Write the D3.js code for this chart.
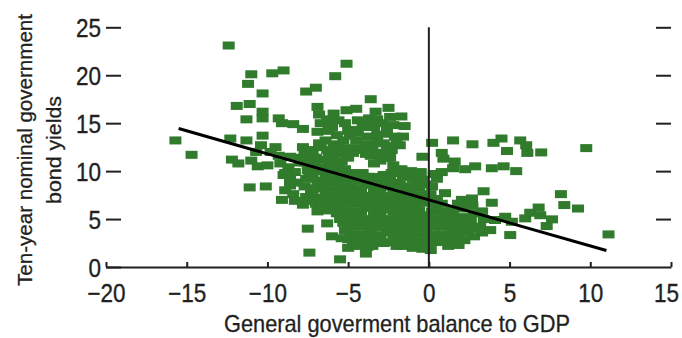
<!DOCTYPE html>
<html>
<head>
<meta charset="utf-8">
<script src="https://cdn.jsdelivr.net/npm/d3@7"></script>
<style>
  body { margin: 0; background: #fff; }
  svg { display: block; }
</style>
</head>
<body>
<svg id="chart" width="682" height="338"></svg>
<script>
// Axis ticks
const xTicks = [-20, -15, -10, -5, 0, 5, 10, 15];
const yTicks = [0, 5, 10, 15, 20, 25];

// Labels
const xTitle = "General goverment balance to GDP";
const yTitleLines = ["Ten-year nominal government", "bond yields"];

// Linear fit of yields on balance
const fitIntercept = 7.0;
const fitSlope = -0.48;
const fitRange = [-15.5, 11];

// Observations: [general government balance (% of GDP), ten-year yield (%)]
const observations = [
  // sparse high-yield and deficit observations
  [-12.4,23.1],[-11.0,20.1],[-11.2,19.1],[-9.7,20.2],[-9.0,20.5],[-5.1,21.2],[-5.8,19.9],
  [-10.3,18.1],[-7.6,18.3],[-7.0,18.7],[-3.6,17.5],
  [-11.9,16.8],[-11.1,17.0],[-10.3,16.2],[-11.3,15.4],[-10.3,15.5],[-9.3,15.5],[-9.1,15.0],
  [-8.4,14.9],[-7.8,14.4],
  [-15.7,13.2],[-14.7,11.7],[-12.3,13.4],[-11.3,13.2],[-10.3,13.7],[-10.4,12.7],[-9.5,12.5],[-7.8,12.5],
  [-12.2,11.2],[-11.8,10.8],[-11.0,11.1],[-10.6,10.5],[-10.0,10.6],[-10.7,12.0],[-9.8,12.0],
  [-11.1,8.3],[-10.1,8.4],
  [-9.2,10.8],[-8.7,10.4],[-9.0,9.6],[-8.3,9.9],[-8.6,11.5],[-9.3,11.6],[-8.2,11.4],[-8.0,10.9],
  [-8.6,8.5],[-8.9,8.0],[-8.2,8.8],[-8.4,7.6],[-9.1,7.0],[-8.3,6.9],[-8.6,9.1],[-8.9,9.8],
  // core deficit cluster, column by column
  [-7.7,11.7],[-7.7,10.9],[-7.5,10.1],[-7.6,9.2],[-7.7,8.4],[-7.6,7.3],[-7.8,6.5],[-7.5,4.0],[-7.4,1.5],
  [-7.3,11.2],[-7.4,9.6],[-7.3,8.0],[-7.4,6.9],
  [-6.9,16.7],[-6.8,15.9],[-6.7,15.0],[-6.9,14.1],[-7.2,12.2],[-7.0,11.4],[-7.1,10.6],[-7.2,9.8],
  [-6.9,9.0],[-7.1,8.2],[-7.2,7.4],[-7.0,6.6],[-6.9,5.8],
  [-6.8,12.9],[-6.8,10.0],[-6.8,8.5],[-6.7,7.0],[-6.8,6.1],
  [-6.4,13.2],[-6.7,12.5],[-6.3,12.2],[-6.7,11.2],[-6.5,10.4],[-6.4,9.6],[-6.6,8.8],[-6.4,8.0],
  [-6.5,7.2],[-6.6,6.4],[-6.3,5.9],[-6.3,4.55],[-6.0,3.2],
  [-6.2,14.2],[-6.3,15.4],[-6.2,11.6],[-6.2,10.8],[-6.2,9.2],[-6.2,7.6],[-6.2,6.8],
  [-5.9,16.0],[-6.0,14.6],[-5.7,13.75],[-5.9,12.8],[-5.8,12.0],[-6.0,11.2],[-5.9,10.4],[-5.8,9.6],
  [-6.0,8.8],[-5.9,8.0],[-5.8,7.2],[-6.0,6.4],[-5.7,5.6],
  [-5.6,15.3],[-5.6,12.4],[-5.6,10.8],[-5.6,9.0],[-5.6,8.4],[-5.6,6.8],[-5.6,6.0],[-5.5,5.0],
  [-5.1,16.35],[-5.2,15.0],[-5.3,13.2],[-5.1,12.4],[-5.3,11.8],[-5.4,11.0],[-5.2,10.2],[-5.3,9.4],
  [-5.4,8.6],[-5.2,7.8],[-5.3,7.0],[-5.4,6.2],[-5.2,5.4],[-5.3,4.6],[-5.2,3.8],[-5.4,3.0],
  [-5.0,2.0],[-5.5,0.8],
  [-5.0,14.2],[-4.9,13.7],[-5.0,11.4],[-5.0,9.0],[-4.9,8.6],[-5.0,6.6],[-5.0,4.2],[-5.0,2.9],
  [-4.5,16.5],[-4.4,15.3],[-4.7,14.3],[-4.5,13.2],[-4.4,12.4],[-4.7,11.9],[-4.7,9.8],[-4.6,9.0],
  [-4.8,8.2],[-4.7,7.4],[-4.6,6.6],[-4.8,5.8],[-4.7,5.0],[-4.6,4.2],[-4.8,3.4],[-4.7,2.6],
  [-4.4,14.0],[-4.4,9.4],[-4.4,7.8],[-4.4,7.0],[-4.4,5.4],[-4.4,4.6],[-4.4,3.0],[-4.4,2.2],
  [-3.7,15.5],[-4.1,14.6],[-3.8,13.6],[-4.1,12.2],[-3.9,11.8],[-4.1,9.8],[-4.0,9.0],[-4.2,8.2],
  [-4.1,7.4],[-4.0,6.6],[-4.2,5.8],[-4.1,5.0],[-4.0,4.2],[-4.2,3.4],[-4.1,2.6],[-3.9,1.4],
  [-3.8,14.8],[-3.8,12.8],[-3.8,9.4],[-3.8,8.6],[-3.8,7.0],[-3.8,6.2],[-3.8,4.6],[-3.8,3.0],[-3.8,2.1],
  [-3.3,16.2],[-3.4,14.6],[-3.2,13.05],[-3.5,12.4],[-3.6,11.6],[-3.4,10.8],[-3.5,9.4],[-3.6,8.6],
  [-3.4,7.8],[-3.5,7.0],[-3.6,6.2],[-3.4,5.4],[-3.5,4.6],[-3.6,3.8],[-3.4,3.0],[-3.5,2.2],
  [-3.2,15.4],[-3.2,13.8],[-3.2,11.9],[-3.2,9.0],[-3.2,8.2],[-3.2,6.6],[-3.2,5.8],[-3.2,4.2],[-3.2,2.6],
  [-2.5,16.6],[-2.9,15.0],[-2.6,13.9],[-2.8,12.9],[-2.9,11.9],[-3.0,11.1],[-2.8,9.6],[-2.9,8.9],
  [-3.0,8.1],[-2.8,7.3],[-2.9,6.5],[-3.0,5.7],[-2.8,4.9],[-2.9,4.1],[-3.0,3.3],[-2.8,2.5],
  [-2.6,14.4],[-2.6,12.6],[-2.6,11.4],[-2.6,8.4],[-2.6,7.0],[-2.6,6.0],[-2.6,4.4],[-2.6,3.6],
  [-2.4,15.65],[-2.2,14.8],[-2.1,13.6],[-2.3,12.2],[-2.4,11.4],[-2.2,10.6],[-2.3,9.8],[-2.4,9.0],
  [-2.2,8.2],[-2.3,7.4],[-2.4,6.6],[-2.2,5.8],[-2.3,5.0],[-2.4,4.2],[-2.2,3.4],[-2.3,2.6],
  [-2.0,12.9],[-2.0,10.0],[-2.0,8.8],[-2.0,7.0],[-2.0,6.2],[-2.0,4.6],[-2.0,3.0],[-2.0,2.2],
  [-1.7,15.7],[-1.5,14.7],[-1.6,13.6],[-1.8,12.7],[-1.7,10.2],[-1.6,9.4],[-1.8,8.6],[-1.7,7.8],
  [-1.6,7.0],[-1.8,6.2],[-1.7,5.4],[-1.6,4.6],[-1.8,3.8],[-1.7,3.0],[-1.6,2.2],
  [-1.4,9.8],[-1.4,8.0],[-1.4,6.6],[-1.4,5.8],[-1.4,4.2],[-1.4,3.4],[-1.4,2.5],
  [-1.1,10.0],[-1.0,9.2],[-1.2,8.4],[-1.1,7.6],[-1.0,6.8],[-1.2,6.0],[-1.1,5.2],[-1.0,4.4],
  [-1.2,3.6],[-1.1,2.8],[-1.0,2.0],
  [-0.8,8.8],[-0.8,7.2],[-0.8,6.4],[-0.8,4.8],[-0.8,4.0],[-0.8,2.4],
  [-0.4,11.5],[-0.5,9.9],[-0.4,9.1],[-0.6,8.3],[-0.5,7.5],[-0.4,6.7],[-0.6,5.9],[-0.5,5.1],
  [-0.4,4.3],[-0.6,3.5],[-0.5,2.7],[-0.4,1.9],
  [-0.2,8.6],[-0.2,7.0],[-0.2,5.4],[-0.2,3.8],[-0.2,3.0],
  // surplus side
  [0.2,12.95],[0.3,9.7],[0.2,8.4],[0.1,7.6],[0.3,6.6],[0.2,5.8],[0.1,5.0],[0.3,4.2],[0.2,3.4],
  [0.1,2.6],[0.12,1.77],
  [0.5,9.2],[0.5,7.1],[0.5,6.2],[0.5,4.6],[0.5,3.0],
  [0.8,11.9],[0.9,11.3],[0.8,9.9],[1.0,7.7],[0.8,6.6],[0.9,5.8],[0.7,5.0],[0.8,4.2],[0.9,3.4],[0.8,2.6],
  [1.2,5.4],[1.2,4.6],[1.2,3.0],[1.2,2.2],
  [1.5,13.2],[1.6,11.0],[1.5,10.3],[1.4,6.0],[1.5,5.4],[1.6,4.6],[1.4,3.8],[1.5,3.0],[1.84,2.3],
  [1.8,6.6],[1.8,5.0],[1.8,4.0],[1.8,3.2],
  [2.25,10.2],[2.05,7.0],[2.1,6.1],[2.2,5.2],[2.0,4.4],[2.1,3.6],[2.2,2.8],
  [2.4,6.6],[2.4,4.6],[2.4,3.8],
  [2.7,12.8],[2.87,10.5],[2.67,7.15],[2.7,6.4],[2.8,5.6],[2.6,4.8],[2.7,4.0],[2.8,3.2],
  [3.39,7.9],[3.3,5.8],[3.4,5.0],[3.18,4.2],[3.3,3.6],
  [4.0,12.95],[3.9,10.3],[3.9,6.7],[4.1,4.9],[3.8,3.85],
  [4.5,13.4],[4.84,12.1],[4.63,10.5],[4.73,5.24],[5.14,4.72],[5.04,3.33],
  [5.66,13.2],[6.03,12.7],[6.1,11.9],[6.96,11.95],[5.41,10.0],
  [5.97,5.07],[6.28,5.66],[6.8,6.2],[6.9,5.4],[7.63,4.97],[7.3,4.27],
  [8.18,7.6],[8.39,6.46],[9.24,6.1],[9.75,12.4],[11.13,3.4]
];

const ink = "#231f20";
const green = "#317b2c";
const FACE = "'Liberation Sans Narrow','Arial Narrow','Liberation Sans',Arial,sans-serif";
const REGULAR = "'Liberation Sans',Arial,sans-serif";

const svg = d3.select("#chart");

const x = d3.scaleLinear().domain([-20, 15]).range([106, 671]);
const y = d3.scaleLinear().domain([0, 25]).range([267, 27.3]);

// Scatter markers
svg.append("g")
  .selectAll("rect")
  .data(observations)
  .join("rect")
  .attr("x", d => x(d[0]) - 6)
  .attr("y", d => y(d[1]) - 4)
  .attr("width", 12)
  .attr("height", 8)
  .attr("fill", green);

// Zero-balance reference line
svg.append("line")
  .attr("x1", x(0)).attr("x2", x(0))
  .attr("y1", y(0)).attr("y2", y(25))
  .attr("stroke", ink).attr("stroke-width", 2);

// Fitted line
svg.append("line")
  .attr("x1", x(fitRange[0])).attr("y1", y(fitIntercept + fitSlope * fitRange[0]))
  .attr("x2", x(fitRange[1])).attr("y2", y(fitIntercept + fitSlope * fitRange[1]))
  .attr("stroke", "#000").attr("stroke-width", 3);

const fmt = d3.format("d");

// Bottom axis with inward ticks
const gx = svg.append("g")
  .attr("transform", `translate(0,${y(0)})`)
  .call(d3.axisBottom(x).tickValues(xTicks).tickSizeInner(-5).tickSizeOuter(0)
        .tickPadding(17).tickFormat(fmt));
gx.select(".domain").attr("stroke", ink).attr("stroke-width", 2);
gx.selectAll(".tick line").attr("stroke", ink).attr("stroke-width", 2);
gx.selectAll(".tick text").filter(d => d === 15).attr("dx", -5);

// Left ticks and labels
const gy = svg.append("g")
  .attr("transform", `translate(${x(-20)},0)`)
  .call(d3.axisLeft(y).tickValues(yTicks).tickSizeInner(-15).tickSizeOuter(0)
        .tickPadding(5).tickFormat(fmt));
gy.select(".domain").remove();
gy.selectAll(".tick line").attr("stroke", ink).attr("stroke-width", 2);
gy.selectAll(".tick text").attr("dy", "0.36em");

// Right ticks without labels
const gr = svg.append("g")
  .attr("transform", `translate(${x(15)},0)`)
  .call(d3.axisRight(y).tickValues(yTicks.filter(v => v > 0)).tickSizeInner(-15)
        .tickSizeOuter(0).tickFormat(""));
gr.select(".domain").remove();
gr.selectAll(".tick line").attr("stroke", ink).attr("stroke-width", 2);

svg.selectAll(".tick text")
  .attr("font-family", FACE)
  .attr("font-size", 25)
  .attr("fill", ink)
  .attr("stroke", ink)
  .attr("stroke-width", 0.35);

// Axis titles
svg.append("text")
  .attr("x", 397).attr("y", 332)
  .attr("text-anchor", "middle")
  .attr("font-family", FACE).attr("font-size", 24).attr("fill", ink)
  .attr("stroke", ink).attr("stroke-width", 0.3)
  .attr("textLength", 346).attr("lengthAdjust", "spacingAndGlyphs")
  .text(xTitle);

const yTitleX = [32, 61];
const yTitleLen = [272, 108];
yTitleLines.forEach((line, i) => {
  svg.append("text")
    .attr("transform", `translate(${yTitleX[i]},150) rotate(-90)`)
    .attr("text-anchor", "middle")
    .attr("font-family", FACE).attr("font-size", 21).attr("fill", ink)
    .attr("stroke", ink).attr("stroke-width", 0.3)
    .attr("textLength", yTitleLen[i]).attr("lengthAdjust", "spacingAndGlyphs")
    .text(line);
});

// Tall tick numerals set to the width of the regular face at 22.5px
svg.selectAll(".tick text").each(function () {
  const t = d3.select(this);
  const probe = svg.append("text")
    .attr("font-family", REGULAR).attr("font-size", 22.5).text(t.text());
  const w = probe.node().getComputedTextLength();
  probe.remove();
  if (w > 0) t.attr("textLength", w).attr("lengthAdjust", "spacingAndGlyphs");
});
</script>
</body>
</html>
